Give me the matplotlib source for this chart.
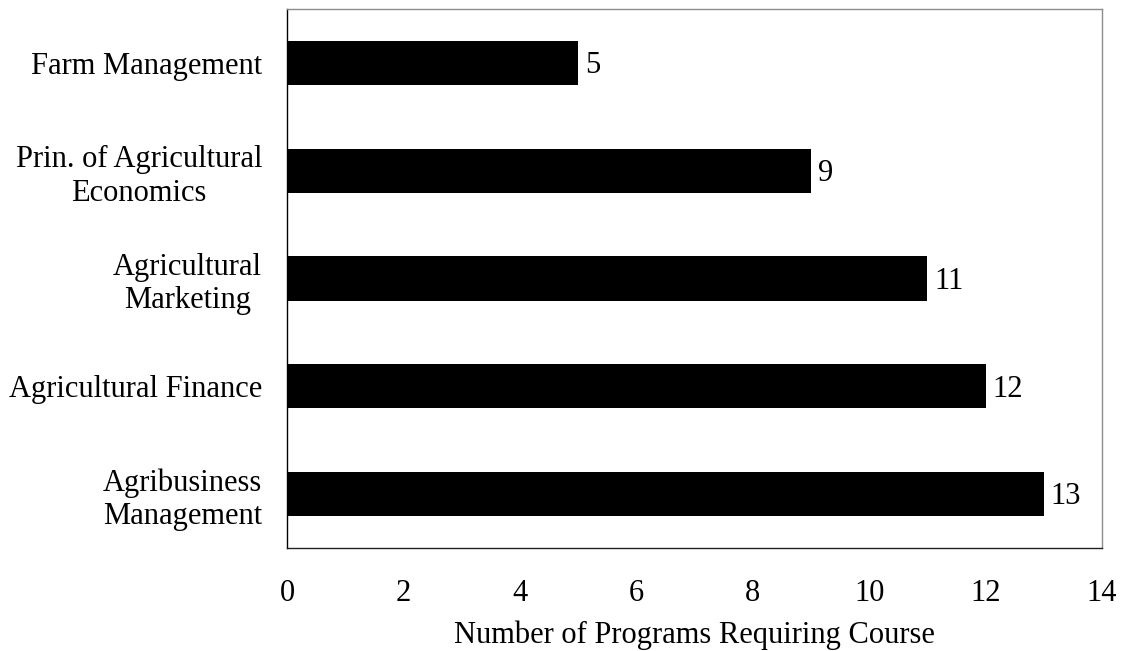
import matplotlib
matplotlib.use("Agg")
import matplotlib.pyplot as plt

# Courses and number of programs requiring each (bottom to top)
courses = [
    "Agribusiness\nManagement",
    "Agricultural Finance",
    "Agricultural\nMarketing",
    "Prin. of Agricultural\nEconomics",
    "Farm Management",
]
programs = [13, 12, 11, 9, 5]
x_ticks = [0, 2, 4, 6, 8, 10, 12, 14]

plt.rcParams["font.family"] = ["Liberation Serif", "DejaVu Serif"]
FS = 22

fig = plt.figure(figsize=(11.22, 6.51), dpi=100)
ax = fig.add_axes([0.2558, 0.1582, 0.7264, 0.828])

ypos = list(range(len(courses)))
bars = ax.barh(ypos, programs, height=0.41, color="black")

for y, v in zip(ypos, programs):
    ax.annotate(str(v), xy=(v, y), xytext=(5, -2), textcoords="offset points",
                ha="left", va="center", fontsize=FS)

ax.set_xlim(0, 14)
ax.set_ylim(-0.5, len(courses) - 0.5)
ax.set_xticks(x_ticks)
ax.set_xticklabels([str(t) for t in x_ticks], fontsize=FS)
ax.set_yticks(ypos)
ax.set_yticklabels(courses, fontsize=FS, multialignment="center")
ax.tick_params(axis="both", length=0)
ax.tick_params(axis="y", pad=18)
ax.tick_params(axis="x", pad=22)
ax.set_xlabel("Number of Programs Requiring Course", fontsize=FS, labelpad=9)

ax.spines["left"].set_color("black")
ax.spines["bottom"].set_color("#222222")
ax.spines["top"].set_color("#8c8c8c")
ax.spines["right"].set_color("#8c8c8c")
for s in ax.spines.values():
    s.set_linewidth(1.0)

fig.savefig("out.png", dpi=100)
